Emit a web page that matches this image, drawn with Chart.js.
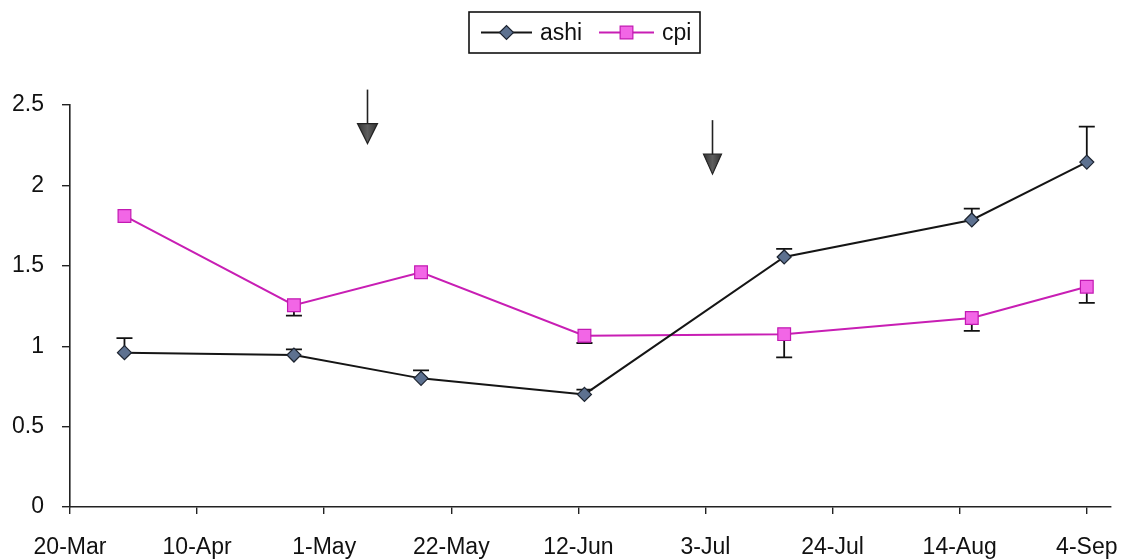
<!DOCTYPE html>
<html>
<head>
<meta charset="utf-8">
<script src="https://cdn.jsdelivr.net/npm/chart.js@4/dist/chart.umd.min.js"></script>
<style>
  html, body { margin: 0; padding: 0; background: #fff; }
  #wrap { width: 1133px; height: 559px; }
</style>
</head>
<body>
<div id="wrap"><canvas id="c" width="1133" height="559"></canvas></div>
<script>
// Axis tick labels (one every 21 days starting 20-Mar)
const tickLabels = ['20-Mar', '10-Apr', '1-May', '22-May', '12-Jun', '3-Jul', '24-Jul', '14-Aug', '4-Sep'];
// Sampling dates, as days after 20-Mar
const sampleDays = [9, 37, 58, 85, 118, 149, 168];
// ashi series and its (upper) error
const ashiValues = [0.96, 0.945, 0.80, 0.70, 1.555, 1.785, 2.145];
const ashiErrors = [0.09, 0.035, 0.05, 0.03, 0.05, 0.07, 0.22];
// cpi series and its (lower) error
const cpiValues = [1.81, 1.255, 1.46, 1.065, 1.075, 1.175, 1.37];
const cpiErrors = [0, 0.065, 0, 0.045, 0.145, 0.08, 0.10];
// Event dates marked with arrows, days after 20-Mar
const eventDays = [49, 106];

const FONT = "'Liberation Sans', Arial, Helvetica, sans-serif";

const toPoints = (vals) => vals.map((v, i) => ({ x: sampleDays[i], y: v }));

// One-sided error bars drawn behind the markers
const errorBarPlugin = {
  id: 'errorBars',
  beforeDatasetsDraw(chart) {
    const { ctx, scales: { x, y } } = chart;
    ctx.save();
    ctx.strokeStyle = '#111';
    ctx.lineWidth = 1.8;
    chart.data.datasets.forEach(ds => {
      const eb = ds.errorBars;
      if (!eb) return;
      ds.data.forEach((p, i) => {
        const e = eb.values[i];
        if (!e) return;
        const px = x.getPixelForValue(p.x);
        const y0 = y.getPixelForValue(p.y);
        const y1 = y.getPixelForValue(p.y + eb.dir * e);
        ctx.beginPath();
        ctx.moveTo(px, y0);
        ctx.lineTo(px, y1);
        ctx.moveTo(px - 8, y1);
        ctx.lineTo(px + 8, y1);
        ctx.stroke();
      });
    });
    ctx.restore();
  }
};

// Downward arrows marking the events
const eventArrowPlugin = {
  id: 'eventArrows',
  afterDraw(chart, args, opts) {
    const { ctx, scales: { x, y } } = chart;
    ctx.save();
    opts.days.forEach((d, i) => {
      const px = Math.round(x.getPixelForValue(d)) + 0.5;
      const tip = y.getPixelForValue(opts.tips[i]);
      const head = 20, half = opts.halfWidths[i], shaft = 34;
      ctx.strokeStyle = '#222';
      ctx.lineWidth = 1.6;
      ctx.beginPath();
      ctx.moveTo(px, tip - head - shaft);
      ctx.lineTo(px, tip - head + 1);
      ctx.stroke();
      const g = ctx.createLinearGradient(px - half, 0, px + half, 0);
      g.addColorStop(0, '#333');
      g.addColorStop(0.5, '#5e5e5e');
      g.addColorStop(1, '#333');
      ctx.fillStyle = g;
      ctx.lineWidth = 1.2;
      ctx.beginPath();
      ctx.moveTo(px - half, tip - head);
      ctx.lineTo(px + half, tip - head);
      ctx.lineTo(px, tip);
      ctx.closePath();
      ctx.fill();
      ctx.stroke();
    });
    ctx.restore();
  }
};

// Framed legend: line sample with marker, then the series name
const framedLegendPlugin = {
  id: 'framedLegend',
  afterDraw(chart, args, opts) {
    const { ctx } = chart;
    const b = opts.box;
    ctx.save();
    ctx.strokeStyle = '#111';
    ctx.lineWidth = 1.6;
    ctx.strokeRect(b.x, b.y, b.w, b.h);
    const cy = b.y + b.h / 2;
    ctx.font = '23px ' + FONT;
    ctx.textBaseline = 'middle';
    ctx.textAlign = 'left';
    chart.data.datasets.forEach((ds, i) => {
      const it = opts.items[i];
      ctx.strokeStyle = ds.borderColor;
      ctx.lineWidth = ds.borderWidth;
      ctx.beginPath();
      ctx.moveTo(it.x0, cy);
      ctx.lineTo(it.x1, cy);
      ctx.stroke();
      ctx.fillStyle = ds.pointBackgroundColor;
      ctx.strokeStyle = ds.pointBorderColor;
      ctx.lineWidth = ds.pointBorderWidth;
      Chart.helpers.drawPoint(ctx, {
        pointStyle: ds.pointStyle, radius: ds.pointRadius, borderWidth: ds.pointBorderWidth, rotation: 0
      }, (it.x0 + it.x1) / 2, cy);
      ctx.fillStyle = '#111';
      ctx.fillText(ds.label, it.x1 + 8, cy + 1);
    });
    ctx.restore();
  }
};

new Chart(document.getElementById('c'), {
  type: 'line',
  data: {
    datasets: [
      {
        label: 'ashi',
        data: toPoints(ashiValues),
        errorBars: { values: ashiErrors, dir: 1 },
        borderColor: '#151515',
        borderWidth: 2,
        pointStyle: 'rectRot',
        pointRadius: 7,
        pointBackgroundColor: '#5d7190',
        pointBorderColor: '#1d2430',
        pointBorderWidth: 1.2,
        tension: 0
      },
      {
        label: 'cpi',
        data: toPoints(cpiValues),
        errorBars: { values: cpiErrors, dir: -1 },
        borderColor: '#c81eb4',
        borderWidth: 2,
        pointStyle: 'rect',
        pointRadius: 9,
        pointBackgroundColor: '#f266e6',
        pointBorderColor: '#c21ab2',
        pointBorderWidth: 1.2,
        tension: 0
      }
    ]
  },
  options: {
    responsive: false,
    animation: false,
    devicePixelRatio: 1,
    layout: { padding: { left: 0, right: 22, top: 105, bottom: 0 } },
    plugins: {
      legend: { display: false },
      tooltip: { enabled: false },
      eventArrows: { days: eventDays, tips: [2.26, 2.07], halfWidths: [10, 9] },
      framedLegend: {
        box: { x: 469, y: 12, w: 231, h: 41 },
        items: [{ x0: 481, x1: 532 }, { x0: 599, x1: 654 }]
      }
    },
    scales: {
      x: {
        type: 'linear',
        min: 0,
        max: 172,
        afterBuildTicks(scale) {
          scale.ticks = tickLabels.map((_, i) => ({ value: i * 21 }));
        },
        afterFit(scale) {
          scale.height = 52;
          scale.paddingLeft = 0;
          scale.paddingRight = 0;
        },
        ticks: {
          autoSkip: false,
          maxRotation: 0,
          padding: 20,
          color: '#111',
          font: { family: FONT, size: 23 },
          callback: (v) => tickLabels[Math.round(v / 21)] ?? ''
        },
        grid: { display: true, drawOnChartArea: false, drawTicks: true, tickLength: 7, color: '#222', lineWidth: 1.4 },
        border: { display: true, color: '#222', width: 1.6 }
      },
      y: {
        min: 0,
        max: 2.5,
        afterFit(scale) { scale.width = 70; },
        ticks: {
          stepSize: 0.5,
          padding: 18,
          color: '#111',
          font: { family: FONT, size: 23 },
          callback: (v) => String(v)
        },
        grid: { display: true, drawOnChartArea: false, drawTicks: true, tickLength: 8, color: '#222', lineWidth: 1.4 },
        border: { display: true, color: '#222', width: 1.6 }
      }
    }
  },
  plugins: [errorBarPlugin, eventArrowPlugin, framedLegendPlugin]
});
</script>
</body>
</html>
